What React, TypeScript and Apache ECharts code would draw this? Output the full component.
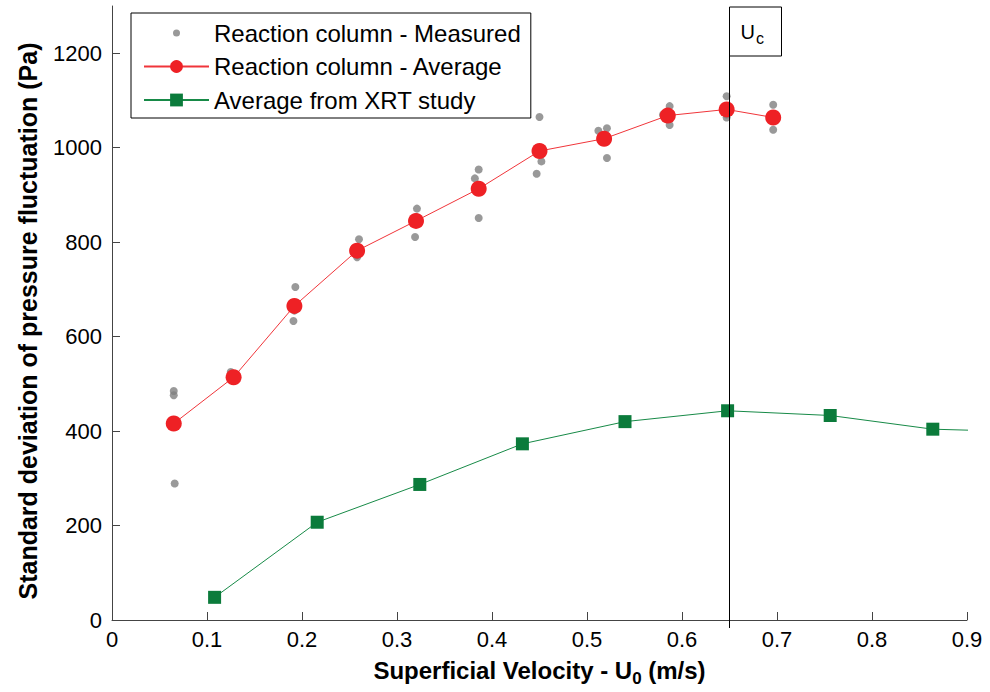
import React, { useEffect, useRef } from "react";
import * as echarts from "echarts";

const measuredX = [
  0.065, 0.065, 0.066,
  0.125, 0.127, 0.128,
  0.193, 0.192, 0.191,
  0.26, 0.258, 0.258,
  0.321, 0.32, 0.319,
  0.386, 0.382, 0.386,
  0.45, 0.452, 0.447,
  0.512, 0.521, 0.521,
  0.587, 0.58, 0.587,
  0.647, 0.647, 0.647,
  0.696, 0.696, 0.696,
];
const measuredY = [
  485, 476, 289,
  525, 514, 506,
  705, 655, 633,
  806, 772, 768,
  871, 853, 811,
  954, 935, 851,
  1065, 971, 945,
  1036, 1041, 978,
  1088, 1070, 1048,
  1109, 1070, 1064,
  1091, 1064, 1038,
];
const averageX = [0.065, 0.128, 0.192, 0.258, 0.32, 0.386, 0.45, 0.518, 0.585, 0.647, 0.696];
const averageY = [416, 514, 665, 782, 845, 913, 993, 1019, 1068, 1081, 1064];
const xrtX = [0.108, 0.216, 0.324, 0.432, 0.54, 0.648, 0.756, 0.864, 0.972];
const xrtY = [48, 207, 287, 373, 420, 443, 433, 404, 398];
const yTickValues = [0, 200, 400, 600, 800, 1000, 1200];
const ucValue = 0.65;

const seriesNames = [
  "Reaction column - Measured",
  "Reaction column - Average",
  "Average from XRT study",
];

export default function App() {
  const ref = useRef<HTMLDivElement>(null);
  useEffect(() => {
    const chart = echarts.init(ref.current!, null, { renderer: "svg" });
    const font = "'Liberation Sans', Arial, Helvetica, sans-serif";
    chart.setOption({
      animation: false,
      backgroundColor: "#ffffff",
      textStyle: { fontFamily: font },
      grid: { left: 112, right: 23, top: 6, bottom: 72, containLabel: false },
      legend: {
        orient: "vertical",
        left: 131,
        top: 13,
        padding: [8, 10, 6, 12],
        itemWidth: 65,
        itemHeight: 16,
        itemGap: 9.5,
        borderColor: "#000",
        borderWidth: 1,
        backgroundColor: "#fff",
        textStyle: { fontFamily: font, fontSize: 24, color: "#000" },
        data: [
          {
            name: seriesNames[0],
            icon: "path://M0,0M16,16M8,4.5A3.5,3.5,0,1,1,8,11.5A3.5,3.5,0,1,1,8,4.5Z",
          },
          { name: seriesNames[1] },
          { name: seriesNames[2] },
        ],
      },
      xAxis: {
        type: "value",
        min: 0,
        max: 0.9,
        interval: 0.1,
        name: "Superficial Velocity - U{sub|0} (m/s)",
        nameLocation: "middle",
        nameGap: 34,
        nameTextStyle: {
          fontFamily: font,
          fontSize: 24,
          fontWeight: "bold",
          color: "#000",
          rich: {
            sub: { fontFamily: font, fontSize: 17, fontWeight: "bold", color: "#000", padding: [16, 0, 0, 0] },
          },
        },
        splitLine: { show: false },
        axisLine: { lineStyle: { color: "#444", width: 1 } },
        axisTick: { inside: true, length: 8, lineStyle: { color: "#444" } },
        axisLabel: { fontFamily: font, fontSize: 22, color: "#000", margin: 8 },
      },
      yAxis: {
        type: "value",
        min: 0,
        max: 1300,
        interval: 200,
        name: "Standard deviation of pressure fluctuation (Pa)",
        nameLocation: "middle",
        nameGap: 72,
        nameTextStyle: {
          fontFamily: font,
          fontSize: 25,
          fontWeight: "bold",
          color: "#000",
          padding: [0, 16, 0, 0],
        },
        splitLine: { show: false },
        axisLine: { lineStyle: { color: "#444", width: 1 } },
        axisTick: { inside: true, length: 8, lineStyle: { color: "#444" }, customValues: yTickValues },
        axisLabel: {
          fontFamily: font,
          fontSize: 22,
          color: "#000",
          margin: 10,
          customValues: yTickValues,
          formatter: (v: number) => String(v),
        },
      },
      series: [
        {
          name: seriesNames[0],
          type: "scatter",
          symbol: "circle",
          symbolSize: 8,
          itemStyle: { color: "#7f7f7f" },
          data: measuredX.map((x, i) => [x, measuredY[i]]),
          z: 2,
        },
        {
          name: seriesNames[1],
          type: "line",
          symbol: "circle",
          symbolSize: 16,
          showAllSymbol: true,
          lineStyle: { color: "#f0353a", width: 1 },
          itemStyle: { color: "#ee2125", borderWidth: 0 },
          data: averageX.map((x, i) => [x, averageY[i]]),
          z: 3,
        },
        {
          name: seriesNames[2],
          type: "line",
          symbol: "rect",
          symbolSize: 13,
          showAllSymbol: true,
          clip: true,
          lineStyle: { color: "#178a47", width: 1 },
          itemStyle: { color: "#0b7b3b", borderWidth: 0 },
          data: xrtX.map((x, i) => [x, xrtY[i]]),
          z: 3,
        },
      ],
    });
    const [ux, y0] = chart.convertToPixel({ gridIndex: 0 }, [ucValue, 0]);
    const [, yTop] = chart.convertToPixel({ gridIndex: 0 }, [ucValue, 1300]);
    chart.setOption({
      graphic: [
        {
          type: "rect",
          shape: { x: ux, y: yTop + 1, width: 52, height: 49 },
          style: { fill: "#fff", stroke: "#000", lineWidth: 1 },
          z: 10,
        },
        {
          type: "line",
          shape: { x1: ux, y1: yTop + 1, x2: ux, y2: y0 + 8 },
          style: { stroke: "#000", lineWidth: 1 },
          z: 11,
        },
        {
          type: "text",
          x: ux + 11,
          y: yTop + 12,
          style: {
            text: "{u|U}{c|c}",
            rich: {
              u: { fontFamily: font, fontSize: 20, fill: "#000" },
              c: { fontFamily: font, fontSize: 16, fill: "#000", padding: [12, 0, 0, 1] },
            },
          },
          z: 12,
        },
      ],
    });
    return () => chart.dispose();
  }, []);
  return <div ref={ref} style={{ position: "fixed", left: 0, top: 0, width: 990, height: 692 }} />;
}
